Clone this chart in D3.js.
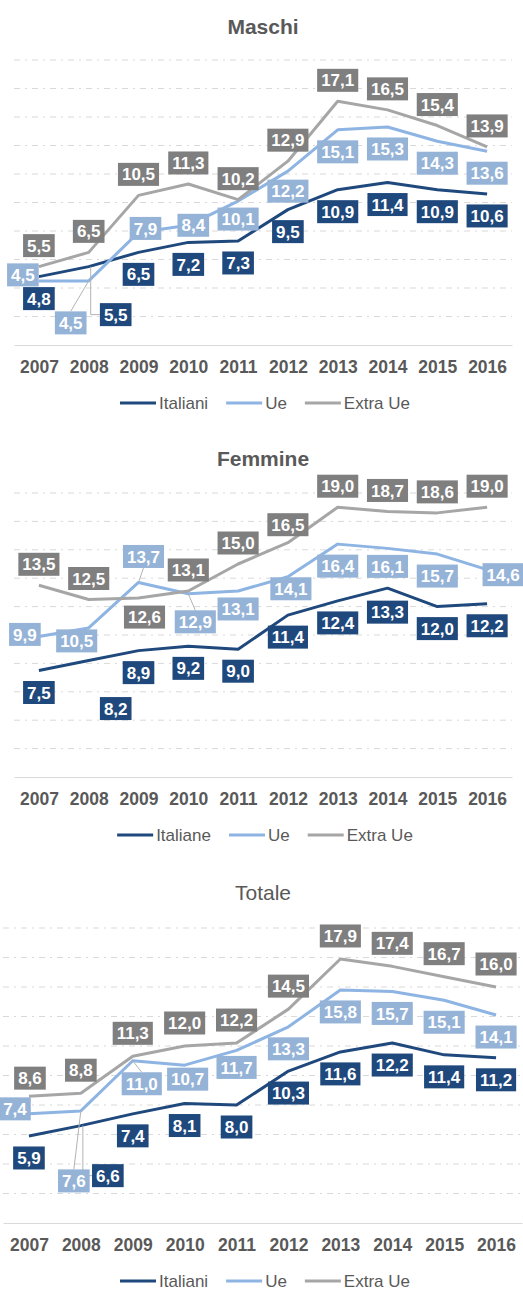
<!DOCTYPE html>
<html>
<head>
<meta charset="utf-8">
<script src="https://cdn.jsdelivr.net/npm/d3@7"></script>
<style>
  body { margin: 0; background: #fff; }
  svg { display: block; font-family: "Liberation Sans Narrow", "Arial Narrow", sans-serif; }
</style>
</head>
<body>
<svg id="chart" width="523" height="1291"></svg>
<script>
const years = ["2007", "2008", "2009", "2010", "2011", "2012", "2013", "2014", "2015", "2016"];
const gridTicks = [2, 4, 6, 8, 10, 12, 14, 16, 18, 20];

const maschiNames = ["Italiani", "Ue", "Extra Ue"];
const maschiItaliani = [4.8, 5.5, 6.5, 7.2, 7.3, 9.5, 10.9, 11.4, 10.9, 10.6];
const maschiUe = [4.5, 4.5, 7.9, 8.4, 10.1, 12.2, 15.1, 15.3, 14.3, 13.6];
const maschiExtraUe = [5.5, 6.5, 10.5, 11.3, 10.2, 12.9, 17.1, 16.5, 15.4, 13.9];

const femmineNames = ["Italiane", "Ue", "Extra Ue"];
const femmineItaliane = [7.5, 8.2, 8.9, 9.2, 9.0, 11.4, 12.4, 13.3, 12.0, 12.2];
const femmineUe = [9.9, 10.5, 13.7, 12.9, 13.1, 14.1, 16.4, 16.1, 15.7, 14.6];
const femmineExtraUe = [13.5, 12.5, 12.6, 13.1, 15.0, 16.5, 19.0, 18.7, 18.6, 19.0];

const totaleNames = ["Italiani", "Ue", "Extra Ue"];
const totaleItaliani = [5.9, 6.6, 7.4, 8.1, 8.0, 10.3, 11.6, 12.2, 11.4, 11.2];
const totaleUe = [7.4, 7.6, 11.0, 10.7, 11.7, 13.3, 15.8, 15.7, 15.1, 14.1];
const totaleExtraUe = [8.6, 8.8, 11.3, 12.0, 12.2, 14.5, 17.9, 17.4, 16.7, 16.0];

const lineColors = ["#1f497d", "#8db4e2", "#a6a6a6"];
const boxColors = ["#1f497d", "#95b3d7", "#7f7f7f"];

// label placement (dx, dy from the point, optional leader), series index : year index
const maschiLabels = {
  "1:0": [-16, -6], "1:1": [-18, 42, "line"], "1:2": [7, -4], "1:3": [5, 0],
  "1:4": [0, 18], "1:5": [0, 20], "0:1": [27, 48, "elbow"]
};
const femmineLabels = {
  "2:2": [6, 19], "2:5": [0, -18], "1:0": [-14, -2], "1:1": [-12, 13],
  "1:2": [5, -26, "line"], "1:3": [7, 28, "line"], "1:4": [0, 18], "1:5": [3, 12],
  "1:7": [0, 18], "1:9": [16, 5], "0:1": [27, 48], "0:7": [0, 24]
};
const totaleLabels = {
  "2:0": [1, -18], "1:0": [-14, -5], "1:1": [-7, 70, "line"], "1:2": [9, 23, "line"],
  "1:3": [3, 14], "1:4": [0, 17], "0:1": [27, 50, "elbow"]
};

const panels = [
  { title: "Maschi", bold: true, names: maschiNames, series: [maschiItaliani, maschiUe, maschiExtraUe],
    x0: 14, x1: 512, top: 60, bottom: 345, titleY: 34, legendY: 403, labels: maschiLabels, above: -21, below: 22 },
  { title: "Femmine", bold: true, names: femmineNames, series: [femmineItaliane, femmineUe, femmineExtraUe],
    x0: 14, x1: 512, top: 493, bottom: 777, titleY: 466, legendY: 835, labels: femmineLabels, above: -21, below: 22 },
  { title: "Totale", bold: false, names: totaleNames, series: [totaleItaliani, totaleUe, totaleExtraUe],
    x0: 3, x1: 522, top: 928, bottom: 1223, titleY: 900, legendY: 1281, labels: totaleLabels, above: -23, below: 22 }
];

const svg = d3.select('#chart');

panels.forEach(p => drawPanel(p));

function drawPanel(p) {
  const x = d3.scalePoint().domain(years).range([p.x0, p.x1]).padding(0.5);
  const y = d3.scaleLinear().domain([0, 20]).range([p.bottom, p.top]);
  const g = svg.append('g');

  g.append('text')
    .attr('x', 263)
    .attr('y', p.titleY)
    .attr('text-anchor', 'middle')
    .attr('font-size', 21)
    .attr('font-weight', p.bold ? 'bold' : 'normal')
    .attr('fill', '#595959')
    .text(p.title);

  g.selectAll('line.grid')
    .data(gridTicks)
    .enter().append('line')
    .attr('class', 'grid')
    .attr('x1', p.x0).attr('x2', p.x1)
    .attr('y1', d => y(d)).attr('y2', d => y(d))
    .attr('stroke', '#d9d9d9')
    .attr('stroke-width', 1)
    .attr('stroke-dasharray', '6,5,2,5');

  const xAxis = d3.axisBottom(x).tickSize(0).tickPadding(16);
  const ax = g.append('g')
    .attr('transform', `translate(0,${p.bottom})`)
    .call(xAxis);
  ax.select('.domain').attr('stroke', '#d9d9d9');
  ax.selectAll('text')
    .attr('font-size', 17.5)
    .attr('font-weight', 'bold')
    .attr('fill', '#595959');
  ax.attr('font-family', null).attr('font-size', null);

  const line = d3.line()
    .x((d, i) => x(years[i]))
    .y(d => y(d));

  p.series.forEach((vals, s) => {
    g.append('path')
      .datum(vals)
      .attr('fill', 'none')
      .attr('stroke', lineColors[s])
      .attr('stroke-width', 3)
      .attr('stroke-linejoin', 'round')
      .attr('d', line);
  });

  // data labels
  const labelLayer = g.append('g');
  const leaderLayer = g.insert('g', () => labelLayer.node());
  p.series.forEach((vals, s) => {
    vals.forEach((v, i) => {
      const px = x(years[i]);
      const py = y(v);
      const o = p.labels[s + ':' + i] || [0, s === 2 ? p.above : p.below];
      const cx = px + o[0];
      const cy = py + o[1];
      const lg = labelLayer.append('g');
      const rect = lg.append('rect');
      const t = lg.append('text')
        .attr('x', cx)
        .attr('y', cy)
        .attr('dy', '0.36em')
        .attr('text-anchor', 'middle')
        .attr('font-size', 17)
        .attr('font-weight', 'bold')
        .attr('fill', '#fff')
        .text(d3.format('.1f')(v).replace('.', ','));
      const w = t.node().getComputedTextLength() + 8;
      const h = 23;
      rect.attr('x', cx - w / 2).attr('y', cy - h / 2)
        .attr('width', w).attr('height', h)
        .attr('fill', boxColors[s]);

      if (o[2] === 'line') {
        const ey = o[1] > 0 ? cy - h / 2 : cy + h / 2;
        leaderLayer.append('line')
          .attr('x1', px).attr('y1', py)
          .attr('x2', cx).attr('y2', ey)
          .attr('stroke', '#b3b3b3').attr('stroke-width', 1);
      } else if (o[2] === 'elbow') {
        leaderLayer.append('path')
          .attr('d', `M${px + 2},${py}V${cy}H${cx - w / 2}`)
          .attr('fill', 'none')
          .attr('stroke', '#b3b3b3').attr('stroke-width', 1);
      }
    });
  });

  // legend
  const leg = g.append('g');
  let cursor = 0;
  p.names.forEach((name, s) => {
    const item = leg.append('g').attr('transform', `translate(${cursor},0)`);
    item.append('line')
      .attr('x1', 0).attr('x2', 36)
      .attr('y1', 0).attr('y2', 0)
      .attr('stroke', lineColors[s])
      .attr('stroke-width', 3);
    const t = item.append('text')
      .attr('x', 39)
      .attr('y', 0)
      .attr('dy', '0.36em')
      .attr('font-size', 17)
      .attr('fill', '#595959')
      .text(name);
    cursor += 39 + t.node().getComputedTextLength() + 18;
  });
  const legW = cursor - 18;
  leg.attr('transform', `translate(${265 - legW / 2},${p.legendY})`);
}
</script>
</body>
</html>
